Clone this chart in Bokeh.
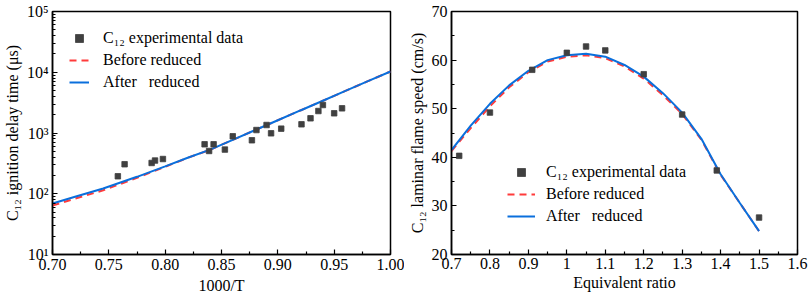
from bokeh.plotting import figure
from bokeh.layouts import row
from bokeh.models import Legend, LegendItem, FixedTicker
from bokeh.embed import file_html
from bokeh.resources import INLINE

# ---------------- Left panel data: ignition delay time ----------------
exp_inv_t = [0.758, 0.764, 0.788, 0.791, 0.798, 0.835, 0.839, 0.843, 0.853,
             0.860, 0.877, 0.881, 0.890, 0.894, 0.903, 0.921, 0.929, 0.936,
             0.940, 0.950, 0.957]
exp_idt = [194, 306, 321, 352, 373, 652, 506, 652, 533,
           883, 759, 1119, 1354, 988, 1180, 1390, 1745, 2300,
           2890, 2110, 2547]

sim_inv_t = [0.70, 0.72, 0.745, 0.775, 0.80, 0.82, 0.84, 0.86, 0.88, 0.90,
             0.92, 0.94, 0.96, 0.98, 1.00]
before_idt = [64, 83, 114, 183, 278, 390, 530, 770, 1120, 1620,
              2350, 3400, 4930, 7140, 10300]
after_idt = [69, 89, 122, 190, 282, 392, 532, 772, 1120, 1620,
             2350, 3400, 4930, 7140, 10300]

y_ticks = [10, 100, 1000, 10000, 100000]
y_tick_labels = ["10¹", "10²", "10³", "10⁴", "10⁵"]
x1_ticks = [0.70, 0.75, 0.80, 0.85, 0.90, 0.95, 1.00]
x1_tick_labels = ["0.70", "0.75", "0.80", "0.85", "0.90", "0.95", "1.00"]

# ---------------- Right panel data: laminar flame speed ----------------
exp_phi = [0.72, 0.80, 0.91, 1.00, 1.05, 1.10, 1.20, 1.30, 1.39, 1.50]
exp_sl = [40.3, 49.2, 58.0, 61.5, 62.8, 62.0, 57.1, 48.8, 37.3, 27.6]

sim_phi = [0.70, 0.75, 0.80, 0.85, 0.90, 0.95, 1.00, 1.05, 1.10, 1.15,
           1.20, 1.25, 1.30, 1.35, 1.40, 1.45, 1.50]
before_sl = [41.3, 46.0, 50.5, 54.4, 57.5, 59.7, 60.7, 61.0, 60.4, 58.7,
             56.2, 52.8, 48.9, 43.6, 36.4, 30.6, 24.8]
after_sl = [41.5, 46.5, 51.0, 54.8, 57.8, 60.0, 61.0, 61.3, 60.7, 59.0,
            56.6, 53.2, 49.2, 43.8, 36.5, 30.6, 24.8]

x2_ticks = [0.7, 0.8, 0.9, 1.0, 1.1, 1.2, 1.3, 1.4, 1.5, 1.6]
y2_ticks = [20, 30, 40, 50, 60, 70]

FONT = "Liberation Serif"
FS = "16px"
SQ_COLOR = "#404040"
RED = "#ff3b3b"
BLUE = "#0a6fdc"


def style(p):
    p.xgrid.visible = False
    p.ygrid.visible = False
    p.outline_line_color = "black"
    p.outline_line_width = 1.5
    p.outline_line_alpha = 1.0
    p.background_fill_color = "white"
    p.border_fill_color = "white"
    for ax in (p.xaxis[0], p.yaxis[0]):
        ax.axis_line_width = 1.5
        ax.axis_line_color = "black"
        ax.major_tick_in = 5
        ax.major_tick_out = 0
        ax.minor_tick_in = 3
        ax.minor_tick_out = 0
        ax.major_tick_line_width = 1.2
        ax.minor_tick_line_width = 1.2
        ax.major_label_text_font = FONT
        ax.major_label_text_font_size = FS
        ax.major_label_text_color = "black"
        ax.axis_label_text_font = FONT
        ax.axis_label_text_font_size = FS
        ax.axis_label_text_font_style = "normal"
        ax.axis_label_text_color = "black"


def style_legend(leg, glyph_w, standoff):
    leg.label_text_font = FONT
    leg.label_text_font_size = FS
    leg.label_text_color = "black"
    leg.glyph_width = glyph_w
    leg.glyph_height = 20
    leg.label_height = 20
    leg.label_standoff = standoff
    leg.spacing = 2
    leg.padding = 0
    leg.margin = 0
    leg.border_line_color = None
    leg.background_fill_alpha = 0


# ---------------- Left figure ----------------
p1 = figure(width=404, height=300, x_range=(0.70, 1.00), y_range=(10, 100000),
            y_axis_type="log", output_backend="svg", toolbar_location=None,
            min_border=0)
p1.min_border_left = 50
p1.min_border_right = 14
p1.min_border_top = 11
p1.min_border_bottom = 46
style(p1)

minor_log = [m * d for d in (10, 100, 1000, 10000) for m in range(2, 10)]
p1.yaxis[0].ticker = FixedTicker(ticks=y_ticks, minor_ticks=minor_log)
p1.yaxis[0].major_label_overrides = {t: l for t, l in zip(y_ticks, y_tick_labels)}
p1.xaxis[0].ticker = FixedTicker(ticks=x1_ticks,
                                 minor_ticks=[0.725, 0.775, 0.825, 0.875, 0.925, 0.975])
p1.xaxis[0].major_label_overrides = {t: l for t, l in zip(x1_ticks, x1_tick_labels)}
p1.xaxis[0].axis_label = "1000/T"
p1.yaxis[0].axis_label = "C₁₂ ignition delay time (μs)"
p1.xaxis[0].major_label_standoff = 4
p1.xaxis[0].axis_label_standoff = 4
p1.yaxis[0].major_label_standoff = 4
p1.yaxis[0].axis_label_standoff = 3

r1b = p1.line(sim_inv_t, before_idt, line_color=RED, line_width=2, line_dash="7 5")
r1a = p1.line(sim_inv_t, after_idt, line_color=BLUE, line_width=2)
r1s = p1.scatter(exp_inv_t, exp_idt, marker="square", size=5.5,
                 fill_color=SQ_COLOR, line_color=SQ_COLOR, line_width=0.8)

leg1 = Legend(items=[LegendItem(label="C₁₂ experimental data", renderers=[r1s]),
                     LegendItem(label="Before reduced", renderers=[r1b]),
                     LegendItem(label="After   reduced", renderers=[r1a])],
              location=(17, 162))
style_legend(leg1, 20, 14)
p1.add_layout(leg1)

# ---------------- Right figure ----------------
p2 = figure(width=405, height=300, x_range=(0.7, 1.6), y_range=(20, 70),
            output_backend="svg", toolbar_location=None, min_border=0)
p2.min_border_left = 47
p2.min_border_right = 12
p2.min_border_top = 9
p2.min_border_bottom = 44
style(p2)
p2.xaxis[0].ticker = FixedTicker(ticks=x2_ticks,
                                 minor_ticks=[0.75, 0.85, 0.95, 1.05, 1.15, 1.25,
                                              1.35, 1.45, 1.55])
p2.yaxis[0].ticker = FixedTicker(ticks=y2_ticks, minor_ticks=[25, 35, 45, 55, 65])
p2.xaxis[0].axis_label = "Equivalent ratio"
p2.yaxis[0].axis_label = "C₁₂ laminar flame speed (cm/s)"
p2.xaxis[0].major_label_standoff = 3
p2.xaxis[0].axis_label_standoff = 2
p2.yaxis[0].major_label_standoff = 4
p2.yaxis[0].axis_label_standoff = 3

r2b = p2.line(sim_phi, before_sl, line_color=RED, line_width=2, line_dash="7 5")
r2a = p2.line(sim_phi, after_sl, line_color=BLUE, line_width=2)
r2s = p2.scatter(exp_phi, exp_sl, marker="square", size=5.5,
                 fill_color=SQ_COLOR, line_color=SQ_COLOR, line_width=0.8)

leg2 = Legend(items=[LegendItem(label="C₁₂ experimental data", renderers=[r2s]),
                     LegendItem(label="Before reduced", renderers=[r2b]),
                     LegendItem(label="After   reduced", renderers=[r2a])],
              location=(56, 28))
style_legend(leg2, 28, 11)
p2.add_layout(leg2)

layout = row(p1, p2, spacing=0)
open("out.html", "w").write(file_html(layout, INLINE))
